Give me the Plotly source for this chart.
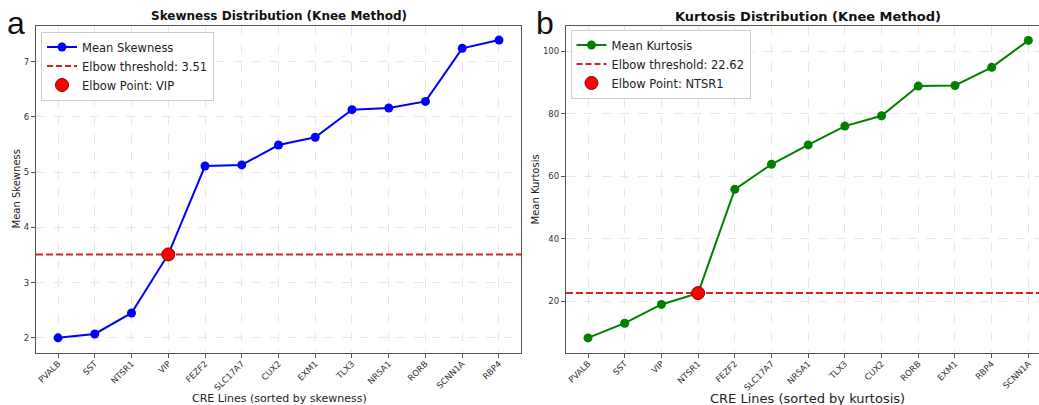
import plotly.graph_objects as go

# ---- data ----
skew_cats = ["PVALB", "SST", "NTSR1", "VIP", "FEZF2", "SLC17A7", "CUX2", "EXM1",
             "TLX3", "NR5A1", "RORB", "SCNN1A", "RBP4"]
skew_vals = [2.00, 2.07, 2.45, 3.51, 5.11, 5.13, 5.49, 5.63, 6.13, 6.16, 6.28, 7.24, 7.39]
skew_threshold = 3.51
skew_elbow = "VIP"

kurt_cats = ["PVALB", "SST", "VIP", "NTSR1", "FEZF2", "SLC17A7", "NR5A1", "TLX3",
             "CUX2", "RORB", "EXM1", "RBP4", "SCNN1A"]
kurt_vals = [8.3, 13.0, 19.0, 22.62, 55.8, 63.8, 70.0, 76.0, 79.3, 88.8, 89.0, 94.8, 103.4]
kurt_threshold = 22.62
kurt_elbow = "NTSR1"

W, H = 1039, 405
FONT = "DejaVu Sans"
RED_LINE = "#e02020"

def px(x):
    return x / W

def py(y):
    return 1 - y / H

fig = go.Figure()

def add_panel(cats, vals, thr, elbow, color, label, xa, ya, legend):
    fig.add_trace(go.Scatter(
        x=cats, y=vals, mode="lines+markers", name=f"Mean {label}",
        line=dict(color=color, width=2), marker=dict(size=9, color=color),
        xaxis=xa, yaxis=ya, legend=legend))
    fig.add_trace(go.Scatter(
        x=[None], y=[None], mode="lines", name=f"Elbow threshold: {thr:.2f}",
        line=dict(color=RED_LINE, width=2, dash="6px,3px"),
        xaxis=xa, yaxis=ya, legend=legend))
    ei = cats.index(elbow)
    fig.add_trace(go.Scatter(
        x=[cats[ei]], y=[vals[ei]], mode="markers", name=f"Elbow Point: {elbow}",
        marker=dict(size=13, color="#ff0000", line=dict(color="#8b0000", width=1)),
        xaxis=xa, yaxis=ya, legend=legend))
    axref = "x" if xa == "x" else "x2"
    fig.add_shape(type="line", xref=f"{axref} domain", yref=ya,
                  x0=0, x1=1, y0=thr, y1=thr,
                  line=dict(color=RED_LINE, width=2, dash="7px,3px"), layer="below")

add_panel(skew_cats, skew_vals, skew_threshold, skew_elbow, "#0000ff", "Skewness", "x", "y", "legend")
add_panel(kurt_cats, kurt_vals, kurt_threshold, kurt_elbow, "#008000", "Kurtosis", "x2", "y2", "legend2")

axis_common = dict(
    showline=True, linecolor="#555555", linewidth=1.2,
    ticks="outside", ticklen=4, tickcolor="#555555", tickwidth=1,
    showgrid=True, gridcolor="#e6e6e6", gridwidth=1, griddash="dash",
    zeroline=False, tickfont=dict(family=FONT, size=8.5, color="#333333"),
)

y_top, y_bot = 25.7, 353.3
legend_common = dict(xanchor="left", yanchor="top",
                     bgcolor="rgba(255,255,255,0.9)", bordercolor="#cccccc", borderwidth=1,
                     font=dict(family=FONT, size=11.5, color="#222222"),
                     itemsizing="trace", tracegroupgap=0)
fig.update_layout(
    width=W, height=H,
    margin=dict(l=0, r=0, t=0, b=0),
    paper_bgcolor="white", plot_bgcolor="white",
    font=dict(family=FONT, color="#222222"),
    xaxis=dict(domain=[px(36), px(521)], range=[-0.6, 12.6], mirror=True,
               tickangle=-45, anchor="y", ticklabelstandoff=-3, **axis_common),
    yaxis=dict(domain=[py(y_bot), py(y_top)], range=[1.72, 7.65], mirror=True,
               tickvals=[2, 3, 4, 5, 6, 7], anchor="x", **axis_common),
    xaxis2=dict(domain=[px(566), 1.0], range=[-0.6, 12.29], mirror=True,
                tickangle=-45, anchor="y2", ticklabelstandoff=-3, **axis_common),
    yaxis2=dict(domain=[py(y_bot), py(y_top)], range=[3.38, 108.1], mirror=False,
                tickvals=[20, 40, 60, 80, 100], anchor="x2", **axis_common),
    showlegend=True,
    legend=dict(x=px(41), y=py(31.5), **legend_common),
    legend2=dict(x=px(570.5), y=py(29.5), **legend_common),
)

annots = [
    dict(text="<b>Skewness Distribution (Knee Method)</b>", x=px(278.5), y=py(16),
         font=dict(family=FONT, size=12, color="#111111")),
    dict(text="<b>Kurtosis Distribution (Knee Method)</b>", x=px(808), y=py(16),
         font=dict(family=FONT, size=13, color="#111111")),
    dict(text="a", x=px(16), y=py(23), font=dict(family="Liberation Sans", size=32, color="#111111")),
    dict(text="b", x=px(545), y=py(23), font=dict(family="Liberation Sans", size=32, color="#111111")),
    dict(text="Mean Skewness", x=px(16), y=py(189.5), textangle=-90,
         font=dict(family=FONT, size=10, color="#222222")),
    dict(text="Mean Kurtosis", x=px(535), y=py(189.5), textangle=-90,
         font=dict(family=FONT, size=10, color="#222222")),
    dict(text="CRE Lines (sorted by skewness)", x=px(279), y=py(398),
         font=dict(family=FONT, size=11, color="#222222")),
    dict(text="CRE Lines (sorted by kurtosis)", x=px(807), y=py(398),
         font=dict(family=FONT, size=13, color="#222222")),
]
for a in annots:
    fig.add_annotation(xref="paper", yref="paper", showarrow=False,
                       xanchor="center", yanchor="middle", **a)

fig.write_html("out.html")
